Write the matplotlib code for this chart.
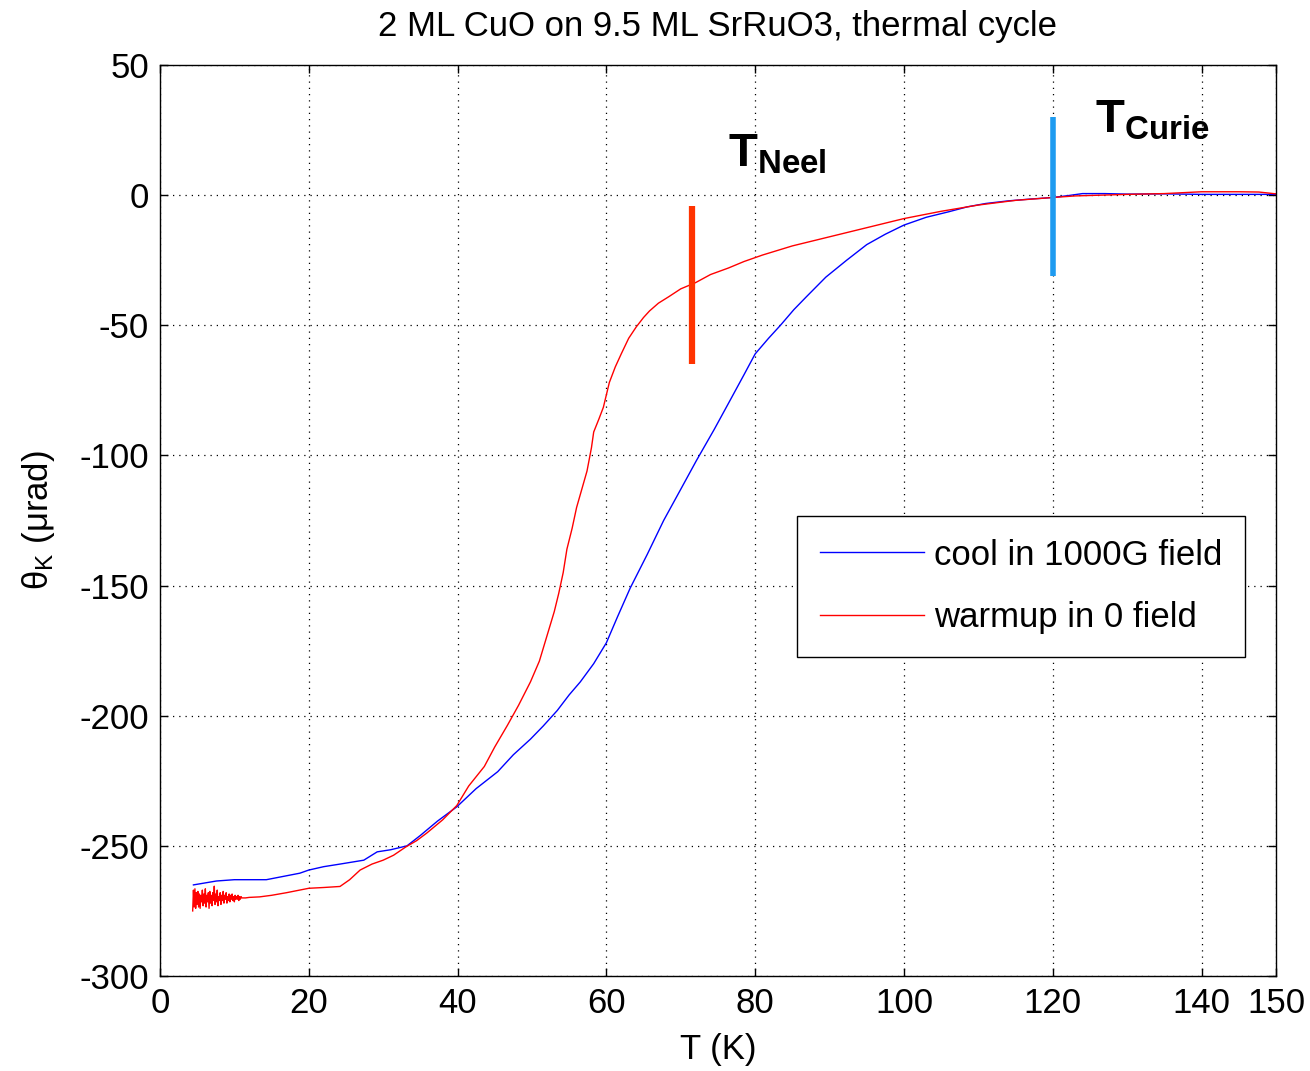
import matplotlib
matplotlib.use('Agg')
import matplotlib.pyplot as plt

plt.rcParams['font.family'] = ['Liberation Sans', 'DejaVu Sans']
plt.rcParams['mathtext.fontset'] = 'custom'
plt.rcParams['mathtext.rm'] = 'Liberation Sans'
plt.rcParams['mathtext.bf'] = 'Liberation Sans:bold'
plt.rcParams['axes.unicode_minus'] = False

# cool in 1000G field (blue)
cool_T = [4.5, 7.6, 10, 14.3, 18.8, 20, 22, 24.2, 27.4, 29.2, 31, 33.2, 35, 37.3, 39.9,
          42.5, 45.4, 47.5, 49.8, 51.5, 53.4, 55, 56.5, 58.3, 60, 61.5, 63.2, 65.5, 67.7,
          70, 72.1, 74.5, 76.6, 78.5, 80, 81.8, 83.4, 85.2, 86.9, 89.5, 92.3, 95, 97.5,
          100, 103, 106, 108.5, 111, 114, 117, 120, 122, 124, 127, 130, 135, 140, 145, 150]
cool_K = [-265, -263.5, -263, -263, -260.5, -259.3, -258, -257, -255.5, -252.3, -251.5,
          -250, -246, -240.5, -235, -228, -221.5, -215, -209, -204, -198, -192, -187, -180,
          -172, -162, -151, -138, -125, -113, -102, -90, -79, -69, -61, -55, -50, -44, -39,
          -31.5, -25, -19, -15, -11.5, -8.5, -6.4, -4.5, -3.2, -2.2, -1.5, -0.9, -0.2, 0.6,
          0.6, 0.4, 0.5, 0.3, 0.3, 0.3]

# warmup in 0 field (red), noisy at low T
warm_T = [4.4, 4.5, 4.6, 4.7, 4.8, 4.9, 5.0, 5.1, 5.2, 5.3,
          5.4, 5.5, 5.6, 5.7, 5.8, 5.9, 6.0, 6.1, 6.2, 6.3,
          6.4, 6.5, 6.6, 6.7, 6.8, 6.9, 7.0, 7.1, 7.2, 7.3,
          7.4, 7.5, 7.6, 7.7, 7.8, 7.9, 8.0, 8.1, 8.2, 8.3,
          8.4, 8.5, 8.6, 8.7, 8.8, 8.9, 9.0, 9.1, 9.2, 9.3,
          9.4, 9.5, 9.6, 9.7, 9.8, 9.9, 10.0, 10.1, 10.2, 10.3,
          10.4, 10.5, 10.6, 10.7, 10.8, 10.9, 11.0,
          11.5, 12, 13.4, 15, 17, 20, 22, 24.2, 25.5, 26.9, 28.5, 30, 31.4, 33, 34.5, 35.9,
          38, 39.9, 41.5, 43.6, 45, 46.7, 48.2, 49.8, 51, 52, 53, 53.6, 54.2, 54.7, 55.4,
          56, 56.7, 57.4, 58, 58.3, 59, 59.6, 60.4, 61.2, 62, 63, 64, 65, 65.8, 67, 68.4,
          70, 72, 74, 76.4, 78.5, 81, 85, 90, 95, 100, 105, 110, 115, 120, 123, 126.4, 130,
          135, 140, 145, 147.7, 150]
warm_K = [-275, -267, -273.5, -266.5, -274, -268, -272.5, -267.5, -273.5, -268.5,
          -274, -269, -271.5, -267, -273, -268.5, -272, -266.5, -273.5, -269,
          -271.5, -268, -274, -267.5, -272, -269, -273, -268, -271, -265.5,
          -272.5, -268.5, -271.5, -267, -273, -269.5, -271, -268, -272.5, -269,
          -271, -267.5, -272, -269, -270.5, -268, -272, -269.5, -271, -268.5,
          -271.5, -269, -270.5, -268.5, -271, -269.5, -271.5, -269, -270.5, -269.5,
          -270.5, -269, -271, -269.5, -270.5, -269.5, -270,
          -270, -269.8, -269.6, -269, -268, -266.3, -266, -265.6, -263, -259.3, -257,
          -255.5, -253.6, -250.5, -248, -245, -240, -234.5, -227, -219.5, -212, -203.7,
          -196, -187, -179, -169.5, -160, -153, -145, -136, -128, -120, -113, -106, -97,
          -91, -86, -81.5, -72, -66, -61, -55, -50.7, -47, -44.5, -41.5, -39, -36, -33.6,
          -30.5, -28, -25.5, -23, -19.5, -16, -12.5, -9, -6.2, -3.8, -2, -0.9, -0.3, 0,
          0.3, 0.6, 1.3, 1.3, 1.2, 0.5]

x_ticks = [0, 20, 40, 60, 80, 100, 120, 140, 150]
y_ticks = [-300, -250, -200, -150, -100, -50, 0, 50]

fig = plt.figure(figsize=(13.1, 10.71), dpi=100)
ax = fig.add_axes([0.1221, 0.0887, 0.8519, 0.8506])

ax.plot(cool_T, cool_K, color='#0000ff', lw=1.0, label='cool in 1000G field')
ax.plot(warm_T, warm_K, color='#ff0000', lw=1.0, label='warmup in 0 field')

# transition markers
ax.plot([71.5, 71.5], [-4, -65], color='#ff3300', lw=4.5, solid_capstyle='butt')
ax.plot([120, 120], [30, -31], color='#1e9bf0', lw=4, solid_capstyle='butt')
ax.text(76.3, 11, r'$\mathbf{T_{Neel}}$', fontsize=34)
ax.text(125.7, 24, r'$\mathbf{T_{Curie}}$', fontsize=34)

ax.set_xlim(0, 150)
ax.set_ylim(-300, 50)
ax.set_xticks(x_ticks)
ax.set_yticks(y_ticks)
ax.tick_params(direction='in', labelsize=25, length=6, width=1, top=True, right=True, pad=8)
ax.grid(True, color='black', linestyle=(0, (1, 4)), lw=0.9)
for s in ax.spines.values():
    s.set_linewidth(1.0)

ax.set_title('2 ML CuO on 9.5 ML SrRuO3, thermal cycle', fontsize=25, pad=21)
ax.set_xlabel('T (K)', fontsize=25, labelpad=9)
ax.set_ylabel(r'$\mathrm{\theta_K}$ (μrad)', fontsize=25, labelpad=16)

leg = ax.legend(loc='upper left', bbox_to_anchor=(0.571, 0.505), fontsize=25,
                handlelength=3.0, handletextpad=0.3, borderpad=0.65, labelspacing=0.85,
                borderaxespad=0, fancybox=False, framealpha=1, edgecolor='black')
leg.get_frame().set_linewidth(1.0)

fig.savefig('out.png', dpi=100)
